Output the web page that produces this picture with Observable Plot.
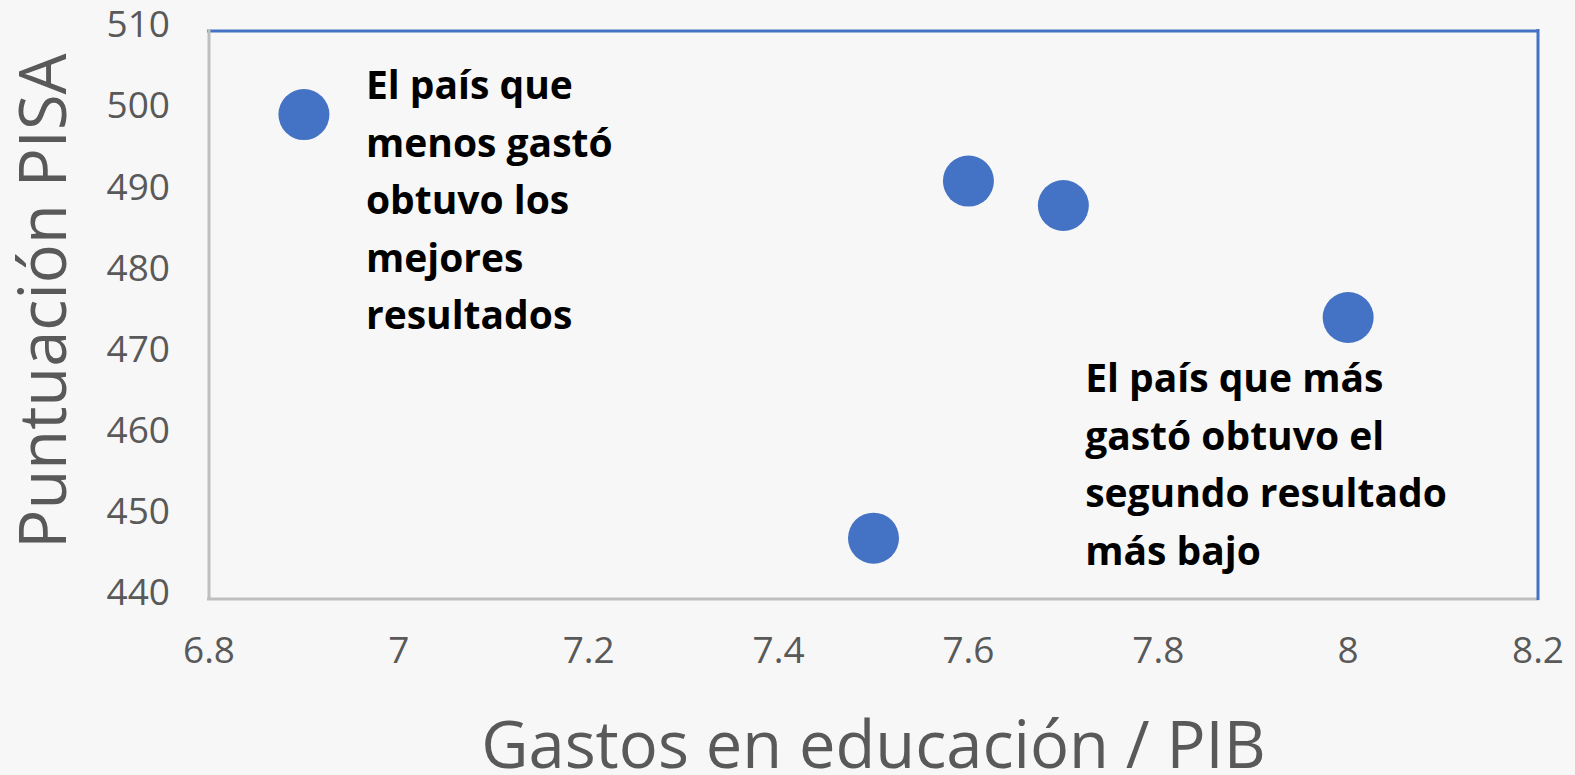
<!DOCTYPE html>
<html>
<head>
<meta charset="utf-8">
<script src="https://cdn.jsdelivr.net/npm/d3@7"></script>
<script src="https://cdn.jsdelivr.net/npm/@observablehq/plot@0.6"></script>
<style>
  html, body { margin: 0; padding: 0; background: #F7F7F7; }
  #chart svg { display: block; }
</style>
</head>
<body>
<div id="chart"></div>
<script>
// Data
const gasto = [6.9, 7.5, 7.6, 7.7, 8.0];          // Gastos en educación / PIB
const pisa  = [499.7, 447.5, 491.5, 488.5, 474.7]; // Puntuación PISA
const xTicks = [6.8, 7.0, 7.2, 7.4, 7.6, 7.8, 8.0, 8.2];
const yTicks = [440, 450, 460, 470, 480, 490, 500, 510];
const xLabel = "Gastos en educación / PIB";
const yLabel = "Puntuación PISA";
const noteLow = "El país que\nmenos gastó\nobtuvo los\nmejores\nresultados";
const noteHigh = "El país que más\ngastó obtuvo el\nsegundo resultado\nmás bajo";

const points = gasto.map((g, i) => ({gasto: g, pisa: pisa[i]}));
const lowest = d3.least(points, d => d.gasto);
const highest = d3.greatest(points, d => d.gasto);

const blue = "#4472C4";
const gray = "#BFBFBF";
const textGray = "#595959";

const chart = Plot.plot({
  width: 1575,
  height: 775,
  marginLeft: 208.5,
  marginRight: 37.5,
  marginTop: 30.5,
  marginBottom: 176.5,
  style: {background: "#F7F7F7", fontFamily: "'Open Sans', sans-serif", overflow: "visible"},
  x: {domain: [6.8, 8.2]},
  y: {domain: [440, 510]},
  marks: [
    Plot.ruleY([510], {stroke: blue, strokeWidth: 3, strokeLinecap: "square"}),
    Plot.ruleY([440], {stroke: gray, strokeWidth: 3, strokeLinecap: "square"}),
    Plot.ruleX([6.8], {stroke: gray, strokeWidth: 3, strokeLinecap: "square"}),
    Plot.ruleX([8.2], {stroke: blue, strokeWidth: 3, strokeLinecap: "square"}),
    Plot.axisX({ticks: xTicks, tickFormat: d => String(d), tickSize: 0, tickPadding: 37.5,
      fontSize: 37, fill: textGray, label: null}),
    Plot.axisY({ticks: yTicks, tickFormat: d => String(d), tickSize: 0, tickPadding: 39,
      fontSize: 37, fill: textGray, label: null, dy: -5.5}),
    Plot.dot(points, {x: "gasto", y: "pisa", r: 25.5, fill: blue, stroke: null}),
    Plot.text([lowest], {x: "gasto", y: "pisa", text: () => noteLow, textAnchor: "start",
      lineAnchor: "top", lineHeight: 1.474, dx: 62, dy: -56, fontSize: 39, fontWeight: "bold", fill: "#000"}),
    Plot.text([highest], {x: "gasto", y: "pisa", text: () => noteHigh, textAnchor: "start",
      lineAnchor: "top", lineHeight: 1.474, dx: -263, dy: 34, fontSize: 39, fontWeight: "bold", fill: "#000"}),
    Plot.text([xLabel], {frameAnchor: "bottom", text: d => d, lineAnchor: "bottom", dy: 169,
      fontSize: 65, fill: textGray}),
    Plot.text([yLabel], {frameAnchor: "left", text: d => d, rotate: -90, lineAnchor: "bottom",
      textAnchor: "middle", dx: -143.5, dy: -14, fontSize: 65, fill: textGray})
  ]
});
document.getElementById("chart").appendChild(chart);
</script>
</body>
</html>
